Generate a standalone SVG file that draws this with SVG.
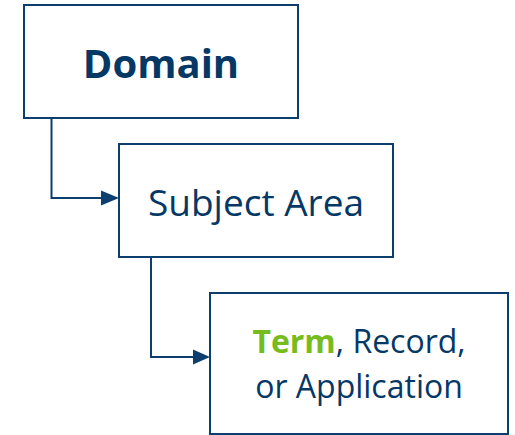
<svg xmlns="http://www.w3.org/2000/svg" width="515" height="435" viewBox="0 0 515 435">
  <style>
    .box { fill: #ffffff; stroke: #0d3f6e; stroke-width: 2; }
    .lbl { font-family: "Open Sans", "Noto Sans", sans-serif; fill: #063866; text-anchor: middle; }
    .wire { fill: none; stroke: #0d3f6e; stroke-width: 2; }
    .head { fill: #0d3f6e; }
    .hl { fill: #77bc1f; font-weight: 700; }
  </style>

  <g id="connectors">
    <path class="wire" d="M51.5,118 V198 H103"/>
    <polygon class="head" points="101,190.5 119,198 101,205.5"/>
    <path class="wire" d="M151,257 V357 H195"/>
    <polygon class="head" points="193,349.5 210,357 193,364.5"/>
  </g>

  <g id="domain">
    <rect class="box" x="24" y="5" width="274" height="113"/>
    <text class="lbl" x="161" y="78" font-size="40" font-weight="700">Domain</text>
  </g>

  <g id="subject-area">
    <rect class="box" x="119" y="144" width="274" height="113"/>
    <text class="lbl" x="256" y="216" font-size="37">Subject Area</text>
  </g>

  <g id="term-record-application">
    <rect class="box" x="210" y="293" width="298" height="141"/>
    <text class="lbl" x="359" y="353" font-size="32"><tspan class="hl">Term</tspan>, Record,</text>
    <text class="lbl" x="359" y="398" font-size="32">or Application</text>
  </g>
</svg>
